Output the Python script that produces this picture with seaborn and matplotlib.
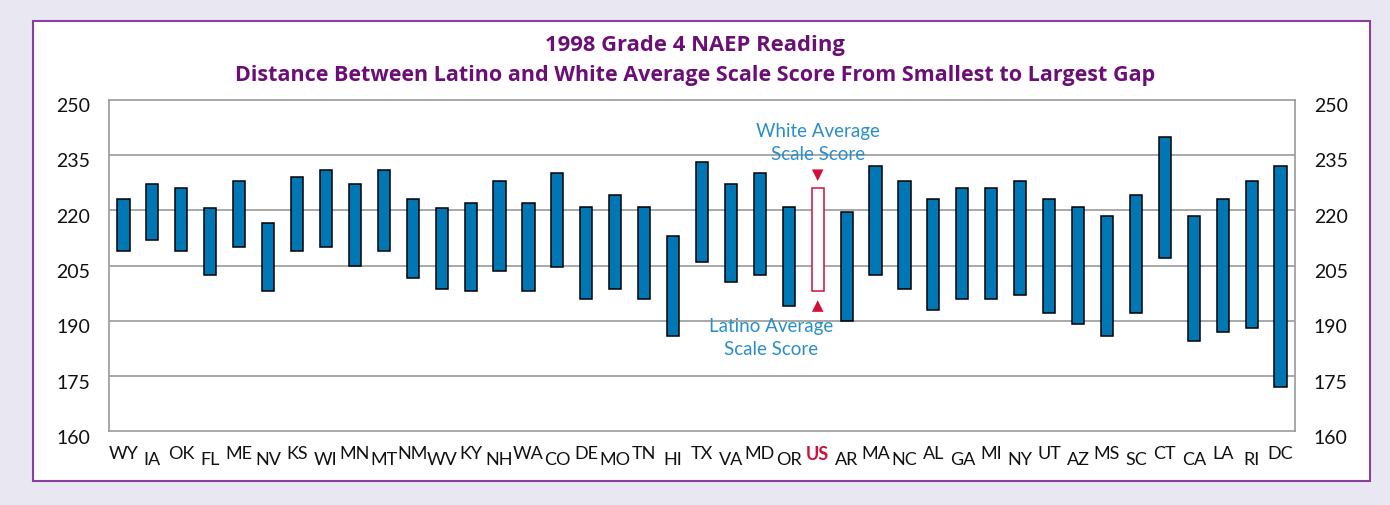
import matplotlib
matplotlib.use("Agg")
import matplotlib.pyplot as plt
from matplotlib.patches import Rectangle
from matplotlib.transforms import ScaledTranslation
import seaborn as sns
import pandas as pd
import numpy as np

states = ["WY", "IA", "OK", "FL", "ME", "NV", "KS", "WI", "MN", "MT", "NM", "WV", "KY", "NH",
          "WA", "CO", "DE", "MO", "TN", "HI", "TX", "VA", "MD", "OR", "US", "AR", "MA", "NC",
          "AL", "GA", "MI", "NY", "UT", "AZ", "MS", "SC", "CT", "CA", "LA", "RI", "DC"]
white_scores = [223, 227, 226, 220.5, 228, 216.5, 229, 231, 227, 231, 223, 220.5, 222, 228,
                222, 230, 221, 224, 221, 213, 233, 227, 230, 221, 226, 219.5, 232, 228,
                223, 226, 226, 228, 223, 221, 218.5, 224, 240, 218.5, 223, 228, 232]
latino_scores = [209, 212, 209, 202.5, 210, 198, 209, 210, 205, 209, 201.5, 198.5, 198, 203.5,
                 198, 204.5, 196, 198.5, 196, 186, 206, 200.5, 202.5, 194, 198, 190, 202.5, 198.5,
                 193, 196, 196, 197, 192, 189, 186, 192, 207, 184.5, 187, 188, 172]
y_ticks = [160, 175, 190, 205, 220, 235, 250]
highlight = "US"

df = pd.DataFrame({"state": states, "white": white_scores, "latino": latino_scores})
df["gap"] = df["white"] - df["latino"]

W, H = 1390, 506
fig = plt.figure(figsize=(W / 100, H / 100), dpi=100, facecolor="#e9e7f1")
fig.patches.append(Rectangle((33 / W, (H - 482) / H), (1370 - 33) / W, (482 - 22) / H,
                             transform=fig.transFigure, facecolor="white",
                             edgecolor="#8a3f9e", linewidth=1.5, zorder=-5))

sns.set_style("white")
plt.rcParams["font.family"] = ["Lato", "DejaVu Sans"]

ax = fig.add_axes([109 / W, (H - 432.3) / H, (1295 - 109) / W, (432.3 - 100.7) / H])
ax.set_zorder(2)
ax.set_facecolor("white")

sns.barplot(data=df, x="state", y="gap", order=states, bottom=df["latino"].values,
            color="#0077b5", edgecolor="black", linewidth=1.1, width=0.42,
            errorbar=None, saturation=1, ax=ax, zorder=3)

hi = states.index(highlight)
p = ax.patches[hi]
p.set_facecolor("white")
p.set_edgecolor("#d0103a")
p.set_linewidth(1.1)

ax.set_ylim(160, 250)
ax.set_xlim(-0.5, len(states) - 0.5)
ax.set_yticks(y_ticks)
ax.set_xlabel("")
ax.set_ylabel("")
for yv in y_ticks[1:-1]:
    ax.axhline(yv, color="#9a9a9a", linewidth=1.2, zorder=1)
for s in ax.spines.values():
    s.set_color("#9a9a9a")
    s.set_linewidth(1.2)

ax.tick_params(axis="y", length=0, labelsize=14, pad=13.5, labelleft=True, labelright=True,
               labelcolor="#111111")
ax.set_xticks(range(len(states)))
ax.set_xticklabels(states)
ax.set_xticks(np.arange(0.5, len(states) - 1, 1.0), minor=True)
ax.tick_params(axis="x", which="major", length=0, labelsize=13, labelcolor="#111111")
ax.tick_params(axis="x", which="minor", direction="in", length=9, color="#9a9a9a", width=1.2)
for i, t in enumerate(ax.xaxis.get_major_ticks()):
    t.set_pad(10 if i % 2 == 0 else 14)
for i, lab in enumerate(ax.get_xticklabels()):
    if states[i] == highlight:
        lab.set_color("#d0103a")
        lab.set_fontweight("bold")

# y tick labels sit slightly below their grid lines in the reference
shift = ScaledTranslation(0, -4.5 / 100, fig.dpi_scale_trans)
for t in ax.yaxis.get_major_ticks():
    t.label1.set_transform(t.label1.get_transform() + shift)
    t.label2.set_transform(t.label2.get_transform() + shift)

# markers above and below the US bar
us_w = white_scores[hi]
us_l = latino_scores[hi]
sns.scatterplot(x=[hi], y=[us_w + 3.5], marker="v", s=70, color="#d0103a",
                edgecolor="none", ax=ax, zorder=4)
sns.scatterplot(x=[hi], y=[us_l - 4.0], marker="^", s=70, color="#d0103a",
                edgecolor="none", ax=ax, zorder=4)
ax.text(hi, 238.6, "White Average\nScale Score", ha="center", va="center",
        color="#2a8fc8", fontsize=13.5, linespacing=1.4, zorder=5)
ax.text(hi - 1.6, 185.6, "Latino Average\nScale Score", ha="center", va="center",
        color="#2a8fc8", fontsize=13.5, linespacing=1.4, zorder=5)

title_color = "#6b0f76"
fig.text(0.5, 1 - 46 / H, "1998 Grade 4 NAEP Reading", ha="center", va="center",
         fontsize=15.8, fontweight="bold", color=title_color, family="Open Sans")
fig.text(0.5, 1 - 76 / H,
         "Distance Between Latino and White Average Scale Score From Smallest to Largest Gap",
         ha="center", va="center", fontsize=15.5, fontweight="bold", color=title_color,
         family="Open Sans")

fig.savefig("out.png", dpi=100, facecolor=fig.get_facecolor())
